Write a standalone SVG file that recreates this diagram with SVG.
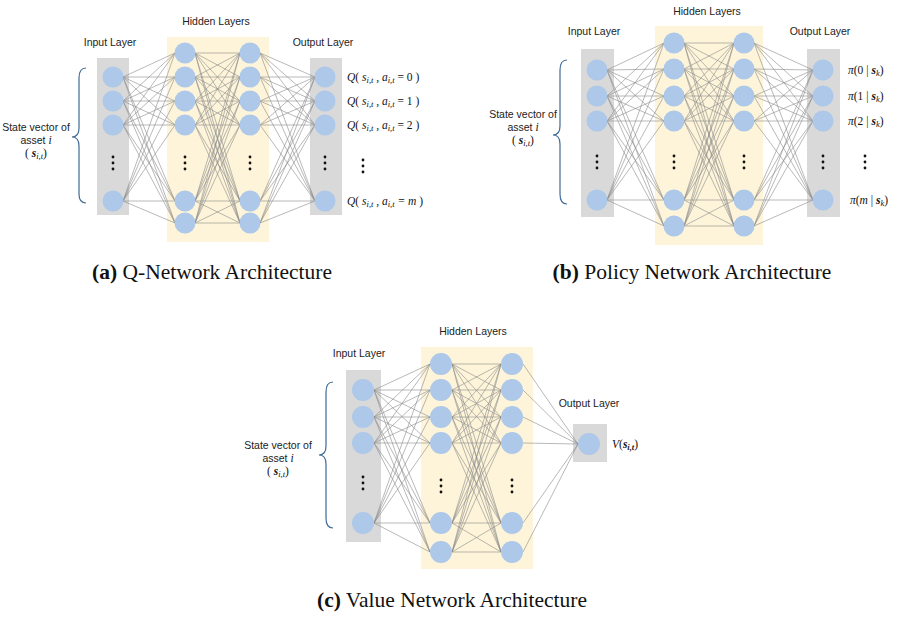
<svg xmlns="http://www.w3.org/2000/svg" width="898" height="617" viewBox="0 0 898 617">
<style>
.bg{fill:#d9d9d9}.hb{fill:#fdf4d9}
.n{fill:#adc8e8}
.e{stroke:#8a8a8a;stroke-width:0.6;fill:none}
.br{stroke:#3e6a94;stroke-width:1.2;fill:none}
.t{font-family:"Liberation Sans",Arial,sans-serif;font-size:10.5px;fill:#222}
.m{font-family:"Liberation Serif","Times New Roman",serif;font-style:italic;font-size:11.5px;fill:#111}
.mb{font-weight:bold}
.sub{font-size:8.5px}
.cap{font-family:"Liberation Serif","Times New Roman",serif;font-size:21.5px;fill:#111}
.d{fill:#111}
</style>
<rect width="898" height="617" fill="#fff"/>
<defs>
<g id="dots"><circle cx="0" cy="-6" r="1.4"/><circle cx="0" cy="0" r="1.4"/><circle cx="0" cy="6" r="1.4"/></g>
</defs>

<!-- Panel A -->
<g id="panelA">
<rect class="hb" x="167" y="37" width="102" height="205"/>
<rect class="bg" x="97" y="58" width="32" height="157"/>
<rect class="bg" x="310" y="58" width="32" height="157"/>
<g id="connA">
<path class="e" d="M123 77L175 53M123 77L175 77M123 77L175 101M123 77L175 125M123 77L175 201M123 77L175 223M123 101L175 53M123 101L175 77M123 101L175 101M123 101L175 125M123 101L175 201M123 101L175 223M123 125L175 53M123 125L175 77M123 125L175 101M123 125L175 125M123 125L175 201M123 125L175 223M123 201L175 53M123 201L175 77M123 201L175 101M123 201L175 125M123 201L175 201M123 201L175 223"/>
<path class="e" d="M195 53L240 53M195 53L240 77M195 53L240 101M195 53L240 125M195 53L240 201M195 53L240 223M195 77L240 53M195 77L240 77M195 77L240 101M195 77L240 125M195 77L240 201M195 77L240 223M195 101L240 53M195 101L240 77M195 101L240 101M195 101L240 125M195 101L240 201M195 101L240 223M195 125L240 53M195 125L240 77M195 125L240 101M195 125L240 125M195 125L240 201M195 125L240 223M195 201L240 53M195 201L240 77M195 201L240 101M195 201L240 125M195 201L240 201M195 201L240 223M195 223L240 53M195 223L240 77M195 223L240 101M195 223L240 125M195 223L240 201M195 223L240 223"/>
<path class="e" d="M260 53L315 77M260 53L315 101M260 53L315 125M260 53L315 201M260 77L315 77M260 77L315 101M260 77L315 125M260 77L315 201M260 101L315 77M260 101L315 101M260 101L315 125M260 101L315 201M260 125L315 77M260 125L315 101M260 125L315 125M260 125L315 201M260 201L315 77M260 201L315 101M260 201L315 125M260 201L315 201M260 223L315 77M260 223L315 101M260 223L315 125M260 223L315 201"/>
</g>
<g id="nodesA">
<circle class="n" cx="113" cy="77" r="10.5"/><circle class="n" cx="113" cy="101" r="10.5"/><circle class="n" cx="113" cy="125" r="10.5"/><circle class="n" cx="113" cy="201" r="10.5"/>
<circle class="n" cx="185" cy="53" r="10.5"/><circle class="n" cx="185" cy="77" r="10.5"/><circle class="n" cx="185" cy="101" r="10.5"/><circle class="n" cx="185" cy="125" r="10.5"/><circle class="n" cx="185" cy="201" r="10.5"/><circle class="n" cx="185" cy="223" r="10.5"/>
<circle class="n" cx="250" cy="53" r="10.5"/><circle class="n" cx="250" cy="77" r="10.5"/><circle class="n" cx="250" cy="101" r="10.5"/><circle class="n" cx="250" cy="125" r="10.5"/><circle class="n" cx="250" cy="201" r="10.5"/><circle class="n" cx="250" cy="223" r="10.5"/>
<circle class="n" cx="325" cy="77" r="10.5"/><circle class="n" cx="325" cy="101" r="10.5"/><circle class="n" cx="325" cy="125" r="10.5"/><circle class="n" cx="325" cy="201" r="10.5"/>
</g>
<g class="d"><use href="#dots" x="113" y="163"/><use href="#dots" x="185" y="163"/><use href="#dots" x="250" y="163"/><use href="#dots" x="325" y="163"/><use href="#dots" x="363" y="166"/></g>
<text class="t" x="110" y="46" text-anchor="middle">Input Layer</text>
<text class="t" x="216" y="25" text-anchor="middle">Hidden Layers</text>
<text class="t" x="323" y="46" text-anchor="middle">Output Layer</text>
<path class="br" d="M86 68Q79 68 79 78L79 128Q79 137 72 137Q79 137 79 146L79 194Q79 203 86 203"/>
<text class="t" x="36" y="131" text-anchor="middle">State vector of</text>
<text class="t" x="36" y="144" text-anchor="middle">asset <tspan class="m">i</tspan></text>
<text class="m" x="36" y="157" text-anchor="middle"><tspan font-style="normal">( </tspan><tspan class="mb">s</tspan><tspan class="sub" dy="2">i,t</tspan><tspan dy="-2" font-style="normal">)</tspan></text>
<text class="m" x="347" y="81">Q<tspan font-style="normal">( </tspan>s<tspan class="sub" dy="2">i,t</tspan><tspan dy="-2"> , a</tspan><tspan class="sub" dy="2">i,t</tspan><tspan dy="-2" font-style="normal"> = 0 )</tspan></text>
<text class="m" x="347" y="105">Q<tspan font-style="normal">( </tspan>s<tspan class="sub" dy="2">i,t</tspan><tspan dy="-2"> , a</tspan><tspan class="sub" dy="2">i,t</tspan><tspan dy="-2" font-style="normal"> = 1 )</tspan></text>
<text class="m" x="347" y="129">Q<tspan font-style="normal">( </tspan>s<tspan class="sub" dy="2">i,t</tspan><tspan dy="-2"> , a</tspan><tspan class="sub" dy="2">i,t</tspan><tspan dy="-2" font-style="normal"> = 2 )</tspan></text>
<text class="m" x="347" y="205">Q<tspan font-style="normal">( </tspan>s<tspan class="sub" dy="2">i,t</tspan><tspan dy="-2"> , a</tspan><tspan class="sub" dy="2">i,t</tspan><tspan dy="-2"> = m </tspan><tspan font-style="normal">)</tspan></text>
<text class="cap" x="212" y="279" text-anchor="middle"><tspan font-weight="bold">(a)</tspan> Q-Network Architecture</text>
</g>

<!-- Panel B -->
<g id="panelB">
<rect class="hb" x="655" y="26" width="108" height="219"/>
<rect class="bg" x="581" y="49" width="33" height="168"/>
<rect class="bg" x="807" y="49" width="33" height="168"/>
<g id="connB">
<path class="e" d="M607 70L664 43M607 70L664 69M607 70L664 96M607 70L664 121M607 70L664 200M607 70L664 226M607 96L664 43M607 96L664 69M607 96L664 96M607 96L664 121M607 96L664 200M607 96L664 226M607 121L664 43M607 121L664 69M607 121L664 96M607 121L664 121M607 121L664 200M607 121L664 226M607 200L664 43M607 200L664 69M607 200L664 96M607 200L664 121M607 200L664 200M607 200L664 226"/>
<path class="e" d="M684 43L734 43M684 43L734 69M684 43L734 96M684 43L734 121M684 43L734 200M684 43L734 226M684 69L734 43M684 69L734 69M684 69L734 96M684 69L734 121M684 69L734 200M684 69L734 226M684 96L734 43M684 96L734 69M684 96L734 96M684 96L734 121M684 96L734 200M684 96L734 226M684 121L734 43M684 121L734 69M684 121L734 96M684 121L734 121M684 121L734 200M684 121L734 226M684 200L734 43M684 200L734 69M684 200L734 96M684 200L734 121M684 200L734 200M684 200L734 226M684 226L734 43M684 226L734 69M684 226L734 96M684 226L734 121M684 226L734 200M684 226L734 226"/>
<path class="e" d="M754 43L813 70M754 43L813 96M754 43L813 121M754 43L813 200M754 69L813 70M754 69L813 96M754 69L813 121M754 69L813 200M754 96L813 70M754 96L813 96M754 96L813 121M754 96L813 200M754 121L813 70M754 121L813 96M754 121L813 121M754 121L813 200M754 200L813 70M754 200L813 96M754 200L813 121M754 200L813 200M754 226L813 70M754 226L813 96M754 226L813 121M754 226L813 200"/>
</g>
<g id="nodesB">
<circle class="n" cx="597" cy="70" r="10.5"/><circle class="n" cx="597" cy="96" r="10.5"/><circle class="n" cx="597" cy="121" r="10.5"/><circle class="n" cx="597" cy="200" r="10.5"/>
<circle class="n" cx="674" cy="43" r="10.5"/><circle class="n" cx="674" cy="69" r="10.5"/><circle class="n" cx="674" cy="96" r="10.5"/><circle class="n" cx="674" cy="121" r="10.5"/><circle class="n" cx="674" cy="200" r="10.5"/><circle class="n" cx="674" cy="226" r="10.5"/>
<circle class="n" cx="744" cy="43" r="10.5"/><circle class="n" cx="744" cy="69" r="10.5"/><circle class="n" cx="744" cy="96" r="10.5"/><circle class="n" cx="744" cy="121" r="10.5"/><circle class="n" cx="744" cy="200" r="10.5"/><circle class="n" cx="744" cy="226" r="10.5"/>
<circle class="n" cx="823" cy="70" r="10.5"/><circle class="n" cx="823" cy="96" r="10.5"/><circle class="n" cx="823" cy="121" r="10.5"/><circle class="n" cx="823" cy="200" r="10.5"/>
</g>
<g class="d"><use href="#dots" x="597" y="162"/><use href="#dots" x="674" y="162"/><use href="#dots" x="744" y="162"/><use href="#dots" x="823" y="162"/><use href="#dots" x="865" y="162"/></g>
<text class="t" x="594" y="35" text-anchor="middle">Input Layer</text>
<text class="t" x="707" y="15" text-anchor="middle">Hidden Layers</text>
<text class="t" x="820" y="35" text-anchor="middle">Output Layer</text>
<path class="br" d="M567 60Q560 60 560 70L560 126Q560 135 553 135Q560 135 560 144L560 194Q560 204 567 204"/>
<text class="t" x="523" y="118" text-anchor="middle">State vector of</text>
<text class="t" x="523" y="131" text-anchor="middle">asset <tspan class="m">i</tspan></text>
<text class="m" x="523" y="144" text-anchor="middle"><tspan font-style="normal">( </tspan><tspan class="mb">s</tspan><tspan class="sub" dy="2">i,t</tspan><tspan dy="-2" font-style="normal">)</tspan></text>
<text class="m" x="848" y="74">π<tspan font-style="normal">(0 | </tspan><tspan class="mb">s</tspan><tspan class="sub" dy="2">k</tspan><tspan dy="-2" font-style="normal">)</tspan></text>
<text class="m" x="848" y="100">π<tspan font-style="normal">(1 | </tspan><tspan class="mb">s</tspan><tspan class="sub" dy="2">k</tspan><tspan dy="-2" font-style="normal">)</tspan></text>
<text class="m" x="848" y="125">π<tspan font-style="normal">(2 | </tspan><tspan class="mb">s</tspan><tspan class="sub" dy="2">k</tspan><tspan dy="-2" font-style="normal">)</tspan></text>
<text class="m" x="850" y="204">π<tspan font-style="normal">(</tspan>m<tspan font-style="normal"> | </tspan><tspan class="mb">s</tspan><tspan class="sub" dy="2">k</tspan><tspan dy="-2" font-style="normal">)</tspan></text>
<text class="cap" x="692" y="279" text-anchor="middle"><tspan font-weight="bold">(b)</tspan> Policy Network Architecture</text>
</g>

<!-- Panel C -->
<g id="panelC">
<rect class="hb" x="421" y="347" width="112" height="222"/>
<rect class="bg" x="346" y="370" width="35" height="172"/>
<rect class="bg" x="573" y="424" width="34" height="38"/>
<g id="connC">
<path class="e" d="M374 390L430 364M374 390L430 390M374 390L430 417M374 390L430 443M374 390L430 523M374 390L430 552M374 417L430 364M374 417L430 390M374 417L430 417M374 417L430 443M374 417L430 523M374 417L430 552M374 443L430 364M374 443L430 390M374 443L430 417M374 443L430 443M374 443L430 523M374 443L430 552M374 523L430 364M374 523L430 390M374 523L430 417M374 523L430 443M374 523L430 523M374 523L430 552"/>
<path class="e" d="M452 364L501 364M452 364L501 390M452 364L501 417M452 364L501 443M452 364L501 523M452 364L501 552M452 390L501 364M452 390L501 390M452 390L501 417M452 390L501 443M452 390L501 523M452 390L501 552M452 417L501 364M452 417L501 390M452 417L501 417M452 417L501 443M452 417L501 523M452 417L501 552M452 443L501 364M452 443L501 390M452 443L501 417M452 443L501 443M452 443L501 523M452 443L501 552M452 523L501 364M452 523L501 390M452 523L501 417M452 523L501 443M452 523L501 523M452 523L501 552M452 552L501 364M452 552L501 390M452 552L501 417M452 552L501 443M452 552L501 523M452 552L501 552"/>
<path class="e" stroke="#666" d="M523 364L578 444M523 390L578 444M523 417L578 444M523 443L578 444M523 523L578 444M523 552L578 444"/>
</g>
<g id="nodesC">
<circle class="n" cx="363" cy="390" r="11"/><circle class="n" cx="363" cy="417" r="11"/><circle class="n" cx="363" cy="443" r="11"/><circle class="n" cx="363" cy="523" r="11"/>
<circle class="n" cx="441" cy="364" r="11"/><circle class="n" cx="441" cy="390" r="11"/><circle class="n" cx="441" cy="417" r="11"/><circle class="n" cx="441" cy="443" r="11"/><circle class="n" cx="441" cy="523" r="11"/><circle class="n" cx="441" cy="552" r="11"/>
<circle class="n" cx="512" cy="364" r="11"/><circle class="n" cx="512" cy="390" r="11"/><circle class="n" cx="512" cy="417" r="11"/><circle class="n" cx="512" cy="443" r="11"/><circle class="n" cx="512" cy="523" r="11"/><circle class="n" cx="512" cy="552" r="11"/>
<circle class="n" cx="589" cy="444" r="11"/>
</g>
<g class="d"><use href="#dots" x="363" y="483"/><use href="#dots" x="441" y="486"/><use href="#dots" x="512" y="486"/></g>
<text class="t" x="359" y="357" text-anchor="middle">Input Layer</text>
<text class="t" x="473" y="335" text-anchor="middle">Hidden Layers</text>
<text class="t" x="589" y="407" text-anchor="middle">Output Layer</text>
<path class="br" d="M333 382Q326 382 326 392L326 446Q326 455 319 455Q326 455 326 464L326 518Q326 528 333 528"/>
<text class="t" x="278" y="449" text-anchor="middle">State vector of</text>
<text class="t" x="278" y="462" text-anchor="middle">asset <tspan class="m">i</tspan></text>
<text class="m" x="278" y="475" text-anchor="middle"><tspan font-style="normal">( </tspan><tspan class="mb">s</tspan><tspan class="sub" dy="2">i,t</tspan><tspan dy="-2" font-style="normal">)</tspan></text>
<text class="m" x="612" y="448">V<tspan font-style="normal">(</tspan><tspan class="mb">s</tspan><tspan class="sub mb" dy="2">i,t</tspan><tspan dy="-2" font-style="normal">)</tspan></text>
<text class="cap" x="452" y="607" text-anchor="middle"><tspan font-weight="bold">(c)</tspan> Value Network Architecture</text>
</g>
</svg>
